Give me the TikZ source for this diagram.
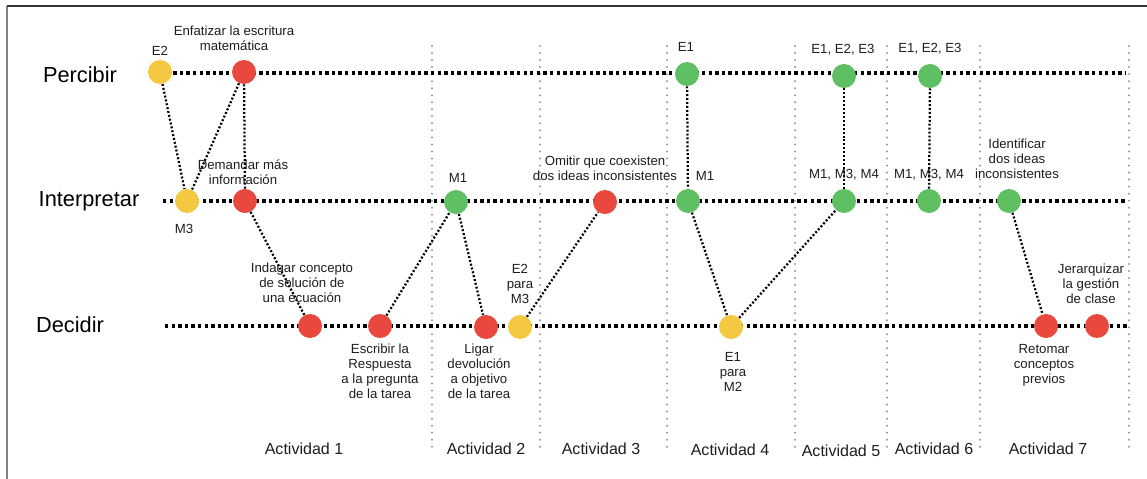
\documentclass[tikz,border=0pt]{standalone}
\usepackage{fontspec}
\setmainfont{Liberation Sans}
\usetikzlibrary{positioning}

\definecolor{myyellow}{RGB}{245,200,66}
\definecolor{myred}{RGB}{232,72,62}
\definecolor{mygreen}{RGB}{95,191,99}
\definecolor{mygray}{RGB}{150,150,150}
\definecolor{mytext}{RGB}{30,30,30}

\begin{document}
\begin{tikzpicture}[x=0.025cm, y=-0.025cm,
	punto/.style={circle, minimum size=0.6cm, inner sep=0pt},
	amarillo/.style={punto, fill=myyellow},
	rojo/.style={punto, fill=myred},
	verde/.style={punto, fill=mygreen},
	fila/.style={line width=2.2pt, dash pattern=on 2.4pt off 2.3pt},
	enlace/.style={line width=1.6pt, dash pattern=on 1.4pt off 1.4pt},
	columna/.style={mygray, line width=1.6pt, line cap=round, dash pattern=on 0pt off 5pt},
	etiq/.style={text=mytext, font=\fontsize{9.4}{10.7}\selectfont, align=center},
	fase/.style={text=black, font=\fontsize{15.5}{18}\selectfont},
	actividad/.style={text=mytext, font=\fontsize{11.4}{13}\selectfont}]
	
	\useasboundingbox (0,0) rectangle (1147,479);
	
	% marco
	\draw[gray, line width=1.5pt] (7,6) -- (7,479);
	\draw[black!80, line width=1.1pt] (7,6) -- (1147,6);
	
	% columnas de actividades
	\foreach \cx in {432,540,667,795,887,980,1129}
		\draw[columna] (\cx,46) -- (\cx,452);
	
	% filas
	\node[fase] (percibir) at (80,75) {Percibir};
	\node[fase] (interpretar) at (89,201) {Interpretar};
	\node[fase] (decidir) at (70,325) {Decidir};
	
	\draw[fila] (160,73) -- (1125,73);
	\draw[fila] (163,201) -- (1127,201);
	\draw[fila] (165,326) -- (1128,326);
	
	% Percibir
	\node[amarillo] (pE2) at (160,72) {};
	\node[rojo] (pEnf) at (244,72) {};
	\node[verde] (pE1) at (687,74) {};
	\node[verde] (pCinco) at (844,76) {};
	\node[verde] (pSeis) at (930,76) {};
	
	% Interpretar
	\node[amarillo] (iM3) at (187,201) {};
	\node[rojo] (iDem) at (245,201) {};
	\node[verde] (iM1) at (456,202) {};
	\node[rojo] (iOmi) at (605,202) {};
	\node[verde] (iCuatro) at (688,201) {};
	\node[verde] (iCinco) at (844,201) {};
	\node[verde] (iSeis) at (929,201) {};
	\node[verde] (iIde) at (1009,201) {};
	
	% Decidir
	\node[rojo] (dInd) at (310,326) {};
	\node[rojo] (dEsc) at (380,326) {};
	\node[rojo] (dLig) at (486,327) {};
	\node[amarillo] (dE2) at (520,327) {};
	\node[amarillo] (dE1) at (731,327) {};
	\node[rojo] (dRet) at (1046,326) {};
	\node[rojo] (dJer) at (1097,326) {};
	
	% enlaces
	\draw[enlace] (pE2) -- (iM3);
	\draw[enlace] (pEnf) -- (iM3);
	\draw[enlace] (pEnf) -- (iDem);
	\draw[enlace] (iDem) -- (dInd);
	\draw[enlace] (dEsc) -- (iM1);
	\draw[enlace] (iM1) -- (dLig);
	\draw[enlace] (dE2) -- (iOmi);
	\draw[enlace] (pE1) -- (iCuatro);
	\draw[enlace] (iCuatro) -- (dE1);
	\draw[enlace] (dE1) -- (iCinco);
	\draw[enlace] (pCinco) -- (iCinco);
	\draw[enlace] (pSeis) -- (iSeis);
	\draw[enlace] (iIde) -- (dRet);
	
	% etiquetas
	\node[etiq] (tE2) at (160,51) {E2};
	\node[etiq] (tEnf) at (234,38.5) {Enfatizar la escritura\\matemática};
	\node[etiq] (tE1) at (686,47) {E1};
	\node[etiq] (tCincoE) at (843,50) {E1, E2, E3};
	\node[etiq] (tSeisE) at (930,49) {E1, E2, E3};
	
	\node[etiq] (tM3) at (184,229) {M3};
	\node[etiq] (tDem) at (243,172) {Demandar más\\información};
	\node[etiq] (tM1) at (458,178) {M1};
	\node[etiq] (tOmi) at (605,168.5) {Omitir que coexisten\\dos ideas inconsistentes};
	\node[etiq] (tM1b) at (705,176) {M1};
	\node[etiq] (tCincoM) at (844,175) {M1, M3, M4};
	\node[etiq] (tSeisM) at (929,175) {M1, M3, M4};
	\node[etiq] (tIde) at (1017,159) {Identificar\\dos ideas\\inconsistentes};
	
	\node[etiq] (tInd) at (302,283) {Indagar concepto\\de solución de\\una ecuación};
	\node[etiq] (tEsc) at (380,371.5) {Escribir la\\Respuesta\\a la pregunta\\de la tarea};
	\node[etiq] (tLig) at (479,371.5) {Ligar\\devolución\\a objetivo\\de la tarea};
	\node[etiq] (tE2M3) at (520,284) {E2\\para\\M3};
	\node[etiq] (tE1M2) at (733,372) {E1\\para\\M2};
	\node[etiq] (tRet) at (1044,365) {Retomar\\conceptos\\previos};
	\node[etiq] (tJer) at (1091,284) {Jerarquizar\\la gestión\\de clase};
	
	% actividades
	\node[actividad] (a1) at (304,449) {Actividad 1};
	\node[actividad] (a2) at (486,449) {Actividad 2};
	\node[actividad] (a3) at (601,449) {Actividad 3};
	\node[actividad] (a4) at (730,450) {Actividad 4};
	\node[actividad] (a5) at (841,451) {Actividad 5};
	\node[actividad] (a6) at (934,449) {Actividad 6};
	\node[actividad] (a7) at (1048,449) {Actividad 7};
	
\end{tikzpicture}
\end{document}
